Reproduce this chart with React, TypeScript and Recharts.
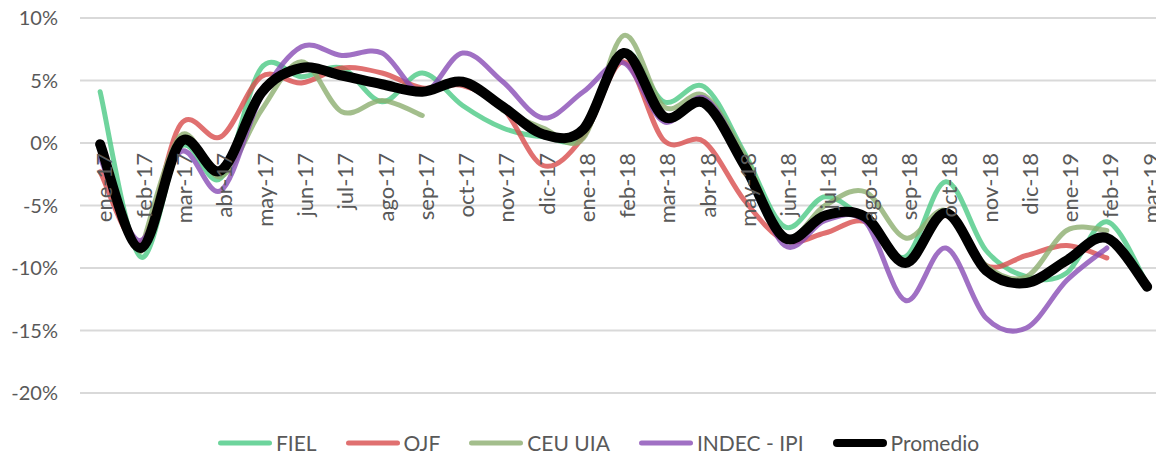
import React from 'react';
import { LineChart, Line, XAxis, YAxis, CartesianGrid, Legend, LabelList } from 'recharts';

const months = ['ene-17','feb-17','mar-17','abr-17','may-17','jun-17','jul-17','ago-17','sep-17','oct-17','nov-17','dic-17','ene-18','feb-18','mar-18','abr-18','may-18','jun-18','jul-18','ago-18','sep-18','oct-18','nov-18','dic-18','ene-19','feb-19','mar-19'];

const fiel = [4.1,-9.1,-0.3,-2.8,6.0,5.3,6.0,3.3,5.6,3.0,1.2,0.5,0.6,7.3,3.3,4.5,-0.8,-6.7,-4.3,-6.2,-9.1,-3.1,-8.6,-10.7,-10.4,-6.3,-11.3];
const ojf = [-2.3,-8.0,1.5,0.5,5.3,4.8,6.0,5.6,4.4,4.6,2.8,-1.8,0.5,6.5,0.2,0.1,-4.6,-7.8,-7.2,-6.3,-9.4,-5.8,-9.8,-9.0,-8.2,-9.2,null];
const ceu = [null,-8.7,0.6,-2.7,2.6,6.5,2.5,3.4,2.2,null,2.6,1.2,0.4,8.6,2.9,3.8,-1.0,-7.5,-5.0,-3.9,-7.6,-5.4,-9.8,-10.7,-7.0,-7.0,null];
const indec = [-1.2,-7.8,-0.7,-3.8,3.7,7.7,7.0,7.2,4.0,7.2,4.9,2.0,4.1,6.4,1.7,3.6,-1.5,-8.2,-6.2,-6.3,-12.6,-8.4,-14.0,-14.8,-11.0,-8.4,null];
const promedio = [-0.1,-8.4,0.1,-2.2,4.0,6.0,5.4,4.7,4.1,4.9,2.9,0.7,1.1,7.2,2.1,3.2,-1.8,-7.6,-5.8,-5.9,-9.6,-5.6,-10.2,-11.2,-9.4,-7.6,-11.5];

const yTicks = [-20,-15,-10,-5,0,5,10];

const seriesNames = ['FIEL','OJF','CEU UIA','INDEC - IPI','Promedio'];
const seriesKeys = ['fiel','ojf','ceu','indec','promedio'];
const seriesColors = ['#4BC985','#D84C4C','#8CAE6F','#884CB5','#000000'];
const seriesOpacity = [0.8,0.8,0.8,0.8,1];
const legendColors = ['#6DD49C','#E07070','#A3BE8C','#A070C4','#000000'];
const seriesWidths = [5,5,5,5,10];

const data = months.map((m, i) => ({
  i,
  label: m,
  zero: 0,
  fiel: fiel[i],
  ojf: ojf[i],
  ceu: ceu[i],
  indec: indec[i],
  promedio: promedio[i],
}));

const FONT = 'Lato, "Open Sans", sans-serif';

// Excel-like smooth curve (Catmull-Rom as cubic Bezier)
const smoothCurve: any = (context: any) => {
  let pts: number[][] = [];
  return {
    areaStart() {},
    areaEnd() {},
    lineStart() { pts = []; },
    point(x: number, y: number) { pts.push([+x, +y]); },
    lineEnd() {
      const n = pts.length;
      if (n === 0) return;
      context.moveTo(pts[0][0], pts[0][1]);
      if (n === 1) { context.lineTo(pts[0][0], pts[0][1]); return; }
      for (let k = 0; k < n - 1; k++) {
        const p0 = pts[k - 1] || pts[k];
        const p1 = pts[k];
        const p2 = pts[k + 1];
        const p3 = pts[k + 2] || pts[k + 1];
        const c1x = p1[0] + (p2[0] - p0[0]) / 6;
        const c1y = p1[1] + (p2[1] - p0[1]) / 6;
        const c2x = p2[0] - (p3[0] - p1[0]) / 6;
        const c2y = p2[1] - (p3[1] - p1[1]) / 6;
        context.bezierCurveTo(c1x, c1y, c2x, c2y, p2[0], p2[1]);
      }
    },
  };
};

const MonthLabel = (props: any) => {
  const { x, y, value } = props;
  if (x == null || y == null) return null;
  const tx = x + 3;
  const ty = y + 10;
  return (
    <text
      x={tx}
      y={ty}
      transform={`rotate(-90 ${tx} ${ty})`}
      textAnchor="end"
      dominantBaseline="central"
      fontFamily={FONT}
      fontSize={22}
      fill="#595959"
    >
      {value}
    </text>
  );
};

const CustomLegend = () => (
  <div
    style={{
      display: 'flex',
      justifyContent: 'center',
      alignItems: 'center',
      paddingLeft: 40,
      paddingTop: 38,
      fontFamily: FONT,
      fontSize: 21,
      color: '#595959',
      lineHeight: '24px',
    }}
  >
    {seriesNames.map((name, k) => (
      <div key={name} style={{ display: 'flex', alignItems: 'center', marginRight: k < seriesNames.length - 1 ? 28 : 0 }}>
        <svg width={56} height={12} style={{ display: 'block', marginRight: 3 }}>
          <line
            x1={k === 4 ? 5 : 3.5}
            y1={6}
            x2={k === 4 ? 51 : 52.5}
            y2={6}
            stroke={legendColors[k]}
            strokeWidth={k === 4 ? 8 : 5}
            strokeLinecap="round"
          />
        </svg>
        <span>{name}</span>
      </div>
    ))}
  </div>
);

export default function App() {
  return (
    <div style={{ position: 'absolute', left: 0, top: 0, width: 1156, height: 455, background: '#fff' }}>
      <LineChart width={1156} height={455} data={data} margin={{ top: 18, right: 0, left: 0, bottom: 0 }}>
        <CartesianGrid horizontal vertical={false} stroke="#d9d9d9" strokeWidth={2} />
        <XAxis type="number" dataKey="i" domain={[-0.5, 26.22]} hide />
        <YAxis
          type="number"
          domain={[-20, 10]}
          ticks={yTicks}
          interval={0}
          tickFormatter={(v: number) => `${v}%`}
          axisLine={false}
          tickLine={false}
          tickMargin={16}
          width={80}
          tick={{ fontFamily: FONT, fontSize: 20, fill: '#595959' }}
        />
        <Legend verticalAlign="bottom" height={62} content={<CustomLegend />} wrapperStyle={{ left: 0, width: 1156 }} />
        <Line
          dataKey="zero"
          stroke="none"
          dot={false}
          activeDot={false}
          legendType="none"
          isAnimationActive={false}
        >
          <LabelList dataKey="label" content={<MonthLabel />} />
        </Line>
        {seriesKeys.map((key, k) => (
          <Line
            key={key}
            dataKey={key}
            name={seriesNames[k]}
            type={smoothCurve}
            stroke={seriesColors[k]}
            strokeOpacity={seriesOpacity[k]}
            strokeWidth={seriesWidths[k]}
            strokeLinecap="round"
            strokeLinejoin="round"
            dot={false}
            activeDot={false}
            connectNulls={false}
            isAnimationActive={false}
          />
        ))}
      </LineChart>
    </div>
  );
}
